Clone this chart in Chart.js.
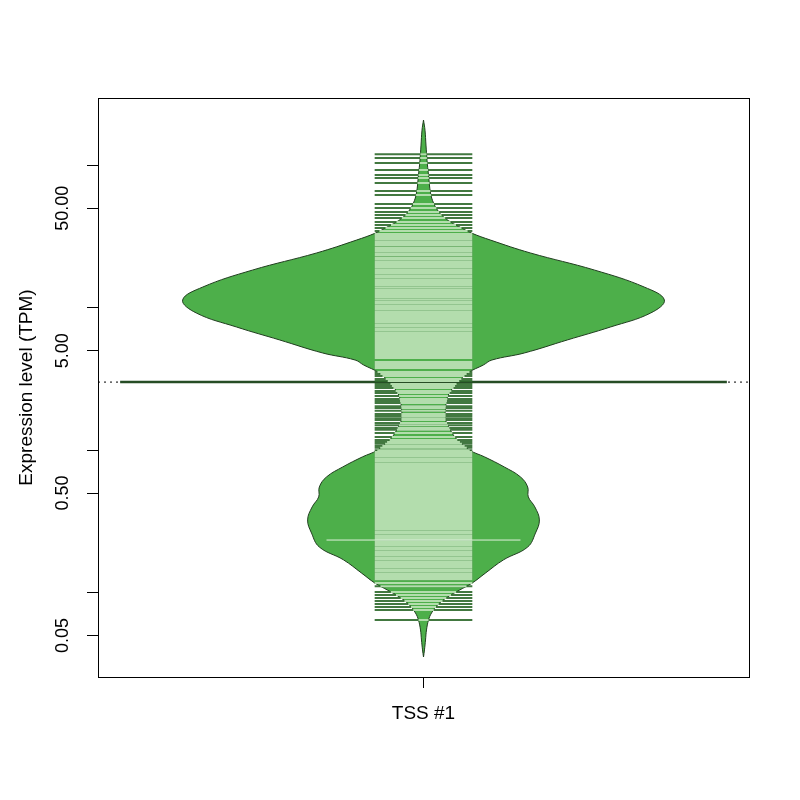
<!DOCTYPE html>
<html>
<head>
<meta charset="utf-8">
<script src="https://cdn.jsdelivr.net/npm/chart.js@4.4.1/dist/chart.umd.min.js"></script>
<style>html,body{margin:0;padding:0;background:#fff}</style>
</head>
<body>
<canvas id="bean" width="800" height="800"></canvas>
<script>
// bean for one transcript start site, log scale
const category = "TSS #1";
const yTicks = [0.05, 0.1, 0.5, 1, 5, 10, 50, 100];
const yTickLabels = ["0.05", "", "0.50", "", "5.00", "", "50.00", ""];

// density outline of the bean (TPM, half width in x units)
const densityTPM = [208.5, 177, 139, 109, 85.7, 64.0, 54.5, 48.6, 44.1, 40.1, 36.4, 33.5, 29.9, 24.3,
  18.4, 14.0, 11.35, 9.20, 7.33, 5.95, 4.82, 4.30, 3.97, 3.49, 2.97, 2.44, 2.01, 1.63, 1.39, 1.18,
  1.00, 0.897, 0.763, 0.649, 0.552, 0.470, 0.400, 0.324, 0.262, 0.209, 0.170, 0.137, 0.117, 0.104,
  0.0932, 0.0819, 0.0719, 0.0642, 0.0547, 0.0465, 0.0396, 0.0353];
const densityWidth = [0, 0.0023, 0.0038, 0.0054, 0.0077, 0.0108, 0.0154, 0.0215, 0.0292, 0.0415, 0.0584, 0.0737, 0.103, 0.164,
  0.263, 0.339, 0.370, 0.349, 0.287, 0.221, 0.155, 0.105, 0.092, 0.068, 0.052, 0.038, 0.034, 0.034, 0.041, 0.052,
  0.071, 0.094, 0.124, 0.149, 0.160, 0.161, 0.171, 0.178, 0.172, 0.160, 0.123, 0.095, 0.075, 0.055,
  0.037, 0.0215, 0.0123, 0.0077, 0.0046, 0.0031, 0.0015, 0];

// single observations (bean lines)
const expression = [
  120, 113, 104, 92.9, 85.7, 81.6, 75.3, 66.2, 62.0, 53.6, 50.2, 47.1, 44.9, 42.7, 40.1, 38.2, 36.4, 34.6, 33.0,
  32.1, 31.0, 30.2, 29.1, 28.3, 27.5, 26.4, 25.8, 25.0, 24.1, 23.5, 22.6, 22.0, 21.2, 20.6, 19.9, 19.3, 18.6,
  18.1, 17.5, 16.9, 16.4, 15.8, 15.3, 14.9, 14.4, 13.9, 13.4, 13.0, 12.6, 12.2, 11.8, 11.4, 11.0, 10.7, 10.3,
  10.0, 9.68, 9.35, 9.05, 8.77, 8.48, 8.20, 7.95, 7.68, 7.45, 7.20, 6.98, 6.74, 6.53, 6.31, 6.11, 5.92, 5.73,
  5.55, 5.37, 5.20, 5.03, 4.87, 4.72, 4.57, 4.45,
  4.16, 4.03, 3.90, 3.78, 3.54, 3.43, 3.32, 3.16, 3.06, 2.92, 2.83, 2.74, 2.61, 2.52, 2.40, 2.29, 2.22, 2.15,
  2.04, 1.98, 1.89, 1.80, 1.74, 1.68, 1.63, 1.55, 1.50, 1.43, 1.39, 1.32, 1.24, 1.18, 1.14, 1.11, 1.07, 1.04, 1.00,
  0.97, 0.94, 0.91, 0.88, 0.855, 0.83, 0.80, 0.776, 0.752, 0.728, 0.705, 0.683, 0.661, 0.64, 0.62, 0.60, 0.582,
  0.563, 0.545, 0.528, 0.511, 0.495, 0.479, 0.464, 0.449, 0.435, 0.421, 0.408, 0.395, 0.382, 0.37, 0.358, 0.347,
  0.336, 0.325, 0.315, 0.305, 0.295, 0.286, 0.277, 0.268, 0.26, 0.251, 0.243, 0.236, 0.228, 0.221, 0.214, 0.207,
  0.201, 0.194, 0.188, 0.182, 0.176, 0.171, 0.165, 0.16, 0.155, 0.15, 0.145, 0.141, 0.136, 0.132, 0.128, 0.124,
  0.117, 0.111, 0.101, 0.0963, 0.0917, 0.0874, 0.0832, 0.0793, 0.0755, 0.0642];
const tiedTPM = [0.234];
const meanTPM = 3.01;

// drawing sizes (x units, bean centred at 1)
const LINE_HALF = 0.075;
const TIE_HALF = 0.149;
const MEAN_HALF = 0.466;

const FONT = "'Liberation Sans', Arial, Helvetica, sans-serif";

function beanWidthAt(v) {
  const lv = Math.log10(v);
  for (let i = 0; i < densityTPM.length - 1; i++) {
    const a = Math.log10(densityTPM[i]), b = Math.log10(densityTPM[i + 1]);
    if (lv <= a && lv >= b) {
      const t = (a - lv) / (a - b);
      return densityWidth[i] + t * (densityWidth[i + 1] - densityWidth[i]);
    }
  }
  return 0;
}

function segments(vals, halfFn) {
  var pts = [];
  vals.forEach(function (v) {
    var h = halfFn(v);
    if (h <= 0) return;
    pts.push({ x: 1 - h, y: v }, { x: 1 + h, y: v }, { x: 1, y: null });
  });
  return pts;
}

var outline = densityTPM.map(function (v, i) { return { x: 1 - densityWidth[i], y: v }; });
for (var i = densityTPM.length - 1; i >= 0; i--) outline.push({ x: 1 + densityWidth[i], y: densityTPM[i] });

var boxPlugin = {
  id: 'box',
  afterDraw: function (chart) {
    var a = chart.chartArea, ctx = chart.ctx;
    ctx.save();
    ctx.strokeStyle = '#000';
    ctx.lineWidth = 1;
    ctx.strokeRect(Math.round(a.left) + 0.5, Math.round(a.top) + 0.5, Math.round(a.right - a.left), Math.round(a.bottom - a.top));
    ctx.restore();
  }
};

var common = { showLine: true, pointRadius: 0, tension: 0, spanGaps: false, fill: false };

new Chart(document.getElementById('bean'), {
  type: 'scatter',
  data: {
    datasets: [
      Object.assign({}, common, {
        label: 'overall', order: 6,
        data: [{ x: 0.5, y: meanTPM }, { x: 1.5, y: meanTPM }],
        borderColor: '#000', borderWidth: 1, borderDash: [2, 4]
      }),
      Object.assign({}, common, {
        label: category, order: 5,
        data: outline, fill: 'shape', tension: 0.4,
        backgroundColor: '#4daf4a', borderColor: '#1f3d1e', borderWidth: 1
      }),
      Object.assign({}, common, {
        label: 'mean', order: 4,
        data: [{ x: 1 - MEAN_HALF, y: meanTPM }, { x: 1 + MEAN_HALF, y: meanTPM }],
        borderColor: '#264d25', borderWidth: 2.5
      }),
      Object.assign({}, common, {
        label: 'outside', order: 3,
        data: segments(expression, function () { return LINE_HALF; }),
        borderColor: 'rgba(45,105,43,0.9)', borderWidth: 2
      }),
      Object.assign({}, common, {
        label: 'inside', order: 2,
        data: segments(expression, function (v) { return Math.min(LINE_HALF, beanWidthAt(v)); }),
        borderColor: '#b3ddad', borderWidth: 2
      }),
      Object.assign({}, common, {
        label: 'ties', order: 1,
        data: segments(tiedTPM, function (v) { return Math.min(TIE_HALF, beanWidthAt(v)); }),
        borderColor: '#dff0dc', borderWidth: 1
      })
    ]
  },
  options: {
    responsive: false,
    animation: false,
    events: [],
    layout: { padding: { left: 0, top: 98, right: 51, bottom: 0 } },
    plugins: { legend: { display: false }, tooltip: { enabled: false } },
    scales: {
      x: {
        type: 'linear', position: 'bottom', min: 0.5, max: 1.5,
        afterBuildTicks: function (s) { s.ticks = [{ value: 1 }]; },
        afterFit: function (s) { s.height = 123; },
        ticks: {
          autoSkip: false, maxRotation: 0, padding: 14, color: '#000',
          font: { family: FONT, size: 19 },
          callback: function () { return category; }
        },
        grid: { drawOnChartArea: false, drawTicks: true, tickLength: 11, color: '#000', lineWidth: 1 },
        border: { display: true, color: '#000', width: 1 }
      },
      y: {
        type: 'logarithmic', position: 'left', min: 0.02555, max: 297.6,
        afterBuildTicks: function (s) { s.ticks = yTicks.map(function (v) { return { value: v }; }); },
        afterFit: function (s) { s.width = 98; },
        ticks: {
          autoSkip: false, minRotation: 90, maxRotation: 90, crossAlign: 'center', padding: 1, color: '#000',
          font: { family: FONT, size: 18 },
          callback: function (v, idx) { return yTickLabels[idx]; }
        },
        grid: { drawOnChartArea: false, drawTicks: true, tickLength: 11, color: '#000', lineWidth: 1 },
        border: { display: true, color: '#000', width: 1 },
        title: {
          display: true, text: 'Expression level (TPM)', color: '#000',
          font: { family: FONT, size: 19, lineHeight: 1.2 },
          padding: { top: 15, bottom: 0 }
        }
      }
    }
  },
  plugins: [boxPlugin]
});
</script>
</body>
</html>
